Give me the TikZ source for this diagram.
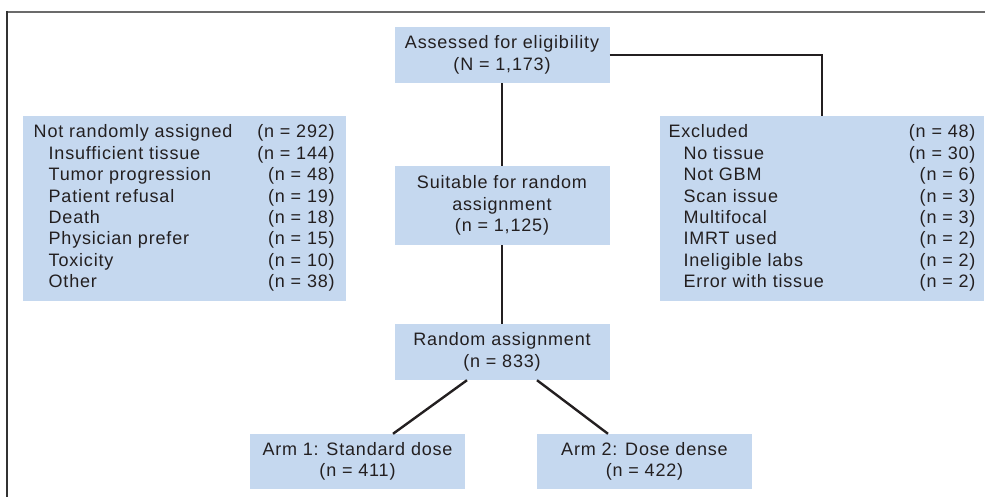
\documentclass[tikz,border=0pt]{standalone}
\usepackage{fontspec}
\setmainfont{Liberation Sans}[LetterSpace=4.5]
\usepackage{array}
\definecolor{boxfill}{HTML}{C5D8EF}
\definecolor{ink}{HTML}{231F20}
\definecolor{framegray}{HTML}{6B6B6B}
\definecolor{framedark}{HTML}{333333}
\newcommand\flowfs{\fontsize{18}{21.4}\selectfont}
\tikzset{
  flowbox/.style={fill=boxfill, inner sep=0pt, minimum width=215pt, align=center, text=ink, font=\flowfs},
  listbox/.style={fill=boxfill, inner sep=0pt, minimum height=185pt, text=ink, font=\flowfs},
  conn/.style={draw=ink, line width=2.4pt},
}
\begin{document}
\begin{tikzpicture}[x=1pt,y=-1pt]
\useasboundingbox (0,0) rectangle (985,497);
\draw[framegray, line width=2pt] (6,12) -- (985,12);
\draw[framedark, line width=2pt] (7,11) -- (7,497);

\node[flowbox, minimum height=56pt] (A) at (502,55) {Assessed for eligibility\\(N = 1,173)};
\node[flowbox, minimum height=79pt] (S) at (502,205.5) {Suitable for random\\assignment\\(n = 1,125)};
\node[flowbox, minimum height=56pt] (R) at (502,352) {Random assignment\\(n = 833)};
\node[flowbox, minimum height=55pt] (B1) at (357.5,461.5) {Arm 1: Standard dose\\(n = 411)};
\node[flowbox, minimum height=55pt] (B2) at (644.5,461.5) {Arm 2: Dose dense\\(n = 422)};

\node[listbox, minimum width=323pt] (NR) at (184.2,208.5) {%
\begin{tabular*}{301pt}{@{\extracolsep{\fill}}lr@{}}
Not randomly assigned & (n = 292)\\
\hspace{15pt}Insufficient tissue & (n = 144)\\
\hspace{15pt}Tumor progression & (n = 48)\\
\hspace{15pt}Patient refusal & (n = 19)\\
\hspace{15pt}Death & (n = 18)\\
\hspace{15pt}Physician prefer & (n = 15)\\
\hspace{15pt}Toxicity & (n = 10)\\
\hspace{15pt}Other & (n = 38)
\end{tabular*}};

\node[listbox, minimum width=324pt] (EX) at (822,208.5) {%
\begin{tabular*}{307pt}{@{\extracolsep{\fill}}lr@{}}
Excluded & (n = 48)\\
\hspace{15pt}No tissue & (n = 30)\\
\hspace{15pt}Not GBM & (n = 6)\\
\hspace{15pt}Scan issue & (n = 3)\\
\hspace{15pt}Multifocal & (n = 3)\\
\hspace{15pt}IMRT used & (n = 2)\\
\hspace{15pt}Ineligible labs & (n = 2)\\
\hspace{15pt}Error with tissue & (n = 2)
\end{tabular*}};

\draw[conn] (A.east) -| (EX.north);
\draw[conn] (A) -- (S);
\draw[conn] (S) -- (R);
\draw[conn] ([xshift=-35pt]R.south) -- ([xshift=35.5pt]B1.north);
\draw[conn] ([xshift=35pt]R.south) -- ([xshift=-36.5pt]B2.north);
\end{tikzpicture}
\end{document}
